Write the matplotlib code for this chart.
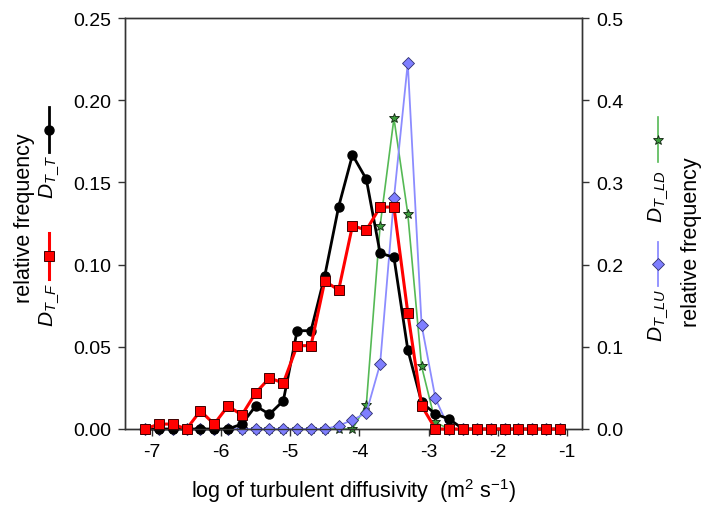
import matplotlib
matplotlib.use("Agg")
import matplotlib.pyplot as plt
from matplotlib.lines import Line2D
from matplotlib.ticker import FormatStrFormatter

plt.rcParams['font.family'] = ['Liberation Sans', 'DejaVu Sans']
plt.rcParams['mathtext.fontset'] = 'custom'
plt.rcParams['mathtext.rm'] = 'Liberation Sans'
plt.rcParams['mathtext.it'] = 'Liberation Sans:italic'
plt.rcParams['axes.unicode_minus'] = False

# ---- data ----
log_kt = [-7.1, -6.9, -6.7, -6.5, -6.3, -6.1, -5.9, -5.7, -5.5, -5.3, -5.1,
          -4.9, -4.7, -4.5, -4.3, -4.1, -3.9, -3.7, -3.5, -3.3, -3.1,
          -2.9, -2.7, -2.5, -2.3, -2.1, -1.9, -1.7, -1.5, -1.3, -1.1]

d_tt = [0, 0, 0, 0, 0, 0, 0, 0.003, 0.014, 0.009, 0.0172,
        0.0598, 0.0598, 0.0933, 0.1352, 0.1667, 0.152, 0.107, 0.1044, 0.0483, 0.0162,
        0.0091, 0.006, 0, 0, 0, 0, 0, 0, 0, 0]

d_tf = [0, 0.003, 0.003, 0, 0.011, 0.003, 0.014, 0.0085, 0.022, 0.031, 0.028,
        0.0507, 0.0507, 0.090, 0.0845, 0.1237, 0.121, 0.135, 0.135, 0.0708, 0.0142,
        0, 0, 0, 0, 0, 0, 0, 0, 0, 0]

d_tld = [0, 0, 0, 0, 0, 0, 0, 0, 0, 0, 0,
         0, 0, 0, 0, 0, 0.029, 0.2474, 0.378, 0.262, 0.0762,
         0.008, 0, 0, 0, 0, 0, 0, 0, 0, 0]

d_tlu = [0, 0, 0, 0, 0, 0, 0, 0, 0, 0, 0,
         0, 0, 0, 0.004, 0.011, 0.0195, 0.079, 0.2807, 0.4453, 0.1265,
         0.0373, 0, 0, 0, 0, 0, 0, 0, 0, 0]

x_ticks = [-7, -6, -5, -4, -3, -2, -1]
left_ticks = [0.00, 0.05, 0.10, 0.15, 0.20, 0.25]
right_ticks = [0.0, 0.1, 0.2, 0.3, 0.4, 0.5]

# ---- styles ----
W, H = 703, 510
fig = plt.figure(figsize=(W / 100, H / 100), dpi=100)
ax = fig.add_axes([125 / W, (H - 430) / H, (582 - 125) / W, (430 - 19) / H])
ax2 = ax.twinx()
ax.set_zorder(ax2.get_zorder() + 1)
ax.patch.set_visible(False)

c_red = '#ff0000'
c_blue_line = '#8c8cff'
c_blue_face = '#7f7fff'
c_green_line = '#55b955'
c_green_face = '#3c9c3c'

sty_tld = dict(color=c_green_line, lw=1.2, marker='*', ms=7, mfc=c_green_face, mec='#102010', mew=0.6)
sty_tlu = dict(color=c_blue_line, lw=1.3, marker='D', ms=6.5, mfc=c_blue_face, mec='#303070', mew=0.6)
sty_tt = dict(color='black', lw=2.0, marker='o', ms=6.5, mfc='black', mec='black')
sty_tf = dict(color=c_red, lw=2.2, marker='s', ms=6.5, mfc=c_red, mec='#400000', mew=0.7)

ax2.plot(log_kt, d_tld, clip_on=False, zorder=2, **sty_tld)
ax2.plot(log_kt, d_tlu, clip_on=False, zorder=3, **sty_tlu)
ax.plot(log_kt, d_tt, clip_on=False, zorder=2, **sty_tt)
ax.plot(log_kt, d_tf, clip_on=False, zorder=3, **sty_tf)

ax.set_xlim(-7.39, -0.78)
ax.set_ylim(0, 0.25)
ax2.set_ylim(0, 0.5)
ax.set_xticks(x_ticks)
ax.set_yticks(left_ticks)
ax2.set_yticks(right_ticks)
ax.yaxis.set_major_formatter(FormatStrFormatter('%.2f'))
ax2.yaxis.set_major_formatter(FormatStrFormatter('%.1f'))

spine_c = '#333333'
for a in (ax, ax2):
    for s in a.spines.values():
        s.set_color(spine_c)
        s.set_linewidth(1.0)
    a.tick_params(direction='out', length=5, width=1.0, color=spine_c, labelsize=14, pad=5)

ax.set_xlabel(r'log of turbulent diffusivity  (m$^{2}$ s$^{-1}$)', fontsize=15.5, labelpad=12)

# axis titles
fig.text(25 / W, 1 - 218 / H, 'relative frequency', rotation=90, ha='center', va='center', fontsize=15.5)
fig.text(692 / W, 1 - 242 / H, 'relative frequency', rotation=90, ha='center', va='center', fontsize=15.5)

# vertical legend keys
def key(xp, y0, y1, ym, sty, label, ty):
    line = Line2D([xp / W, xp / W], [1 - y0 / H, 1 - y1 / H], transform=fig.transFigure,
                  color=sty['color'], lw=sty['lw'])
    fig.add_artist(line)
    mk = Line2D([xp / W], [1 - ym / H], transform=fig.transFigure, linestyle='none',
                marker=sty['marker'], ms=sty['ms'], mfc=sty['mfc'], mec=sty['mec'],
                mew=sty.get('mew', 1.0))
    fig.add_artist(mk)
    fig.text(xp / W, 1 - ty / H, label, rotation=90, ha='center', va='center', fontsize=15)

key(49, 108, 153, 131, sty_tt, r'$D_{T\_T}$', 177)
key(49, 234, 280, 257, sty_tf, r'$D_{T\_F}$', 305)
key(658, 118, 163, 141, sty_tld, r'$D_{T\_LD}$', 197)
key(658, 243, 287, 265, sty_tlu, r'$D_{T\_LU}$', 316)

fig.savefig('out.png', dpi=100)
